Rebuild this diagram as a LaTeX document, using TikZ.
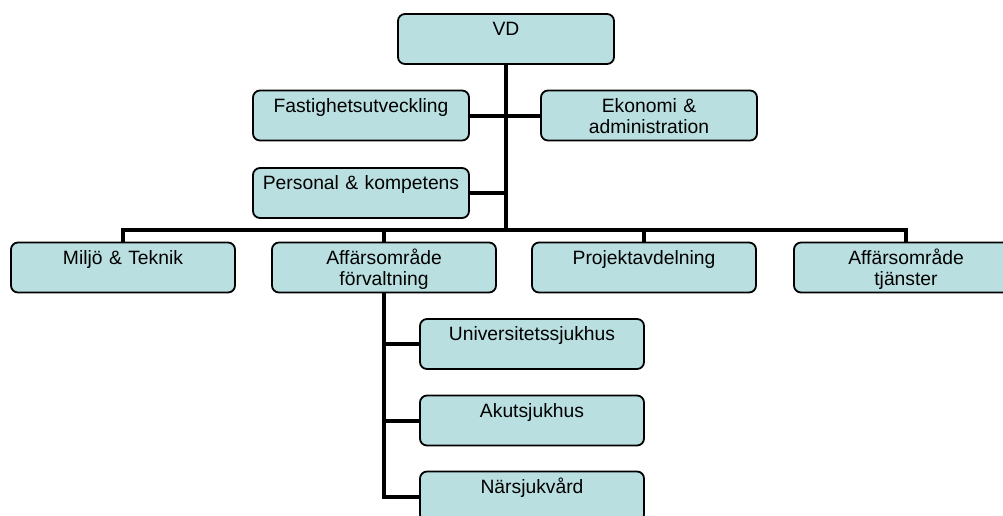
\documentclass[tikz,border=0pt]{standalone}
\usepackage{fontspec}
\setmainfont{Liberation Sans}
\usepackage{tikz}
\definecolor{boxblue}{RGB}{185,223,225}
\tikzstyle{unit}=[draw, fill=boxblue, rounded corners=7pt, line width=1.8pt, inner xsep=4pt, inner ysep=0pt, align=center, text height=21.5pt, text depth=28.5pt]
\tikzstyle{wide}=[unit, text width=216pt]
\tikzstyle{narrow}=[unit, text width=208pt]
\tikzstyle{link}=[line width=4pt, line join=miter]

\begin{document}
\begin{tikzpicture}[x=1pt, y=-1pt, font=\fontsize{19.3}{21}\selectfont]

    \useasboundingbox (0,0) rectangle (1003,515);
    \clip (0,0) rectangle (1003,515);

    % top
    \node[narrow] (VD) at (506,39) {VD};

    % staff
    \node[narrow] (Fast) at (361,115.5) {Fastighetsutveckling};
    \node[narrow] (Ekon) at (649,115.5) {Ekonomi \&\\administration};
    \node[narrow] (Pers) at (361,193) {Personal \& kompetens};

    % second row
    \node[wide] (Milj) at (123,267.5) {Miljö \& Teknik};
    \node[wide] (Forv) at (384,267.5) {Affärsområde\\förvaltning};
    \node[wide] (Proj) at (644,267.5) {Projektavdelning};
    \node[wide] (Tjan) at (906,267.5) {Affärsområde\\tjänster};

    % third row
    \node[wide] (Univ) at (532,344) {Universitetssjukhus};
    \node[wide] (Akut) at (532,420.5) {Akutsjukhus};
    \node[wide] (Nars) at (532,496.5) {Närsjukvård};

    \coordinate (bus) at (506,230);

    % Connect the nodes
    \draw[link] (VD) -- (bus);
    \draw[link] (Fast) -- (Ekon);
    \draw[link] (Pers.east) -- (Pers.east -| bus);
    \draw[link] (Milj.north) |- (bus) -| (Tjan.north);
    \draw[link] (Forv.north) -- (Forv.north |- bus);
    \draw[link] (Proj.north) -- (Proj.north |- bus);
    \draw[link] (Forv.south) |- (Nars.west);
    \draw[link] (Forv.south |- Univ.west) -- (Univ.west);
    \draw[link] (Forv.south |- Akut.west) -- (Akut.west);

\end{tikzpicture}
\end{document}
